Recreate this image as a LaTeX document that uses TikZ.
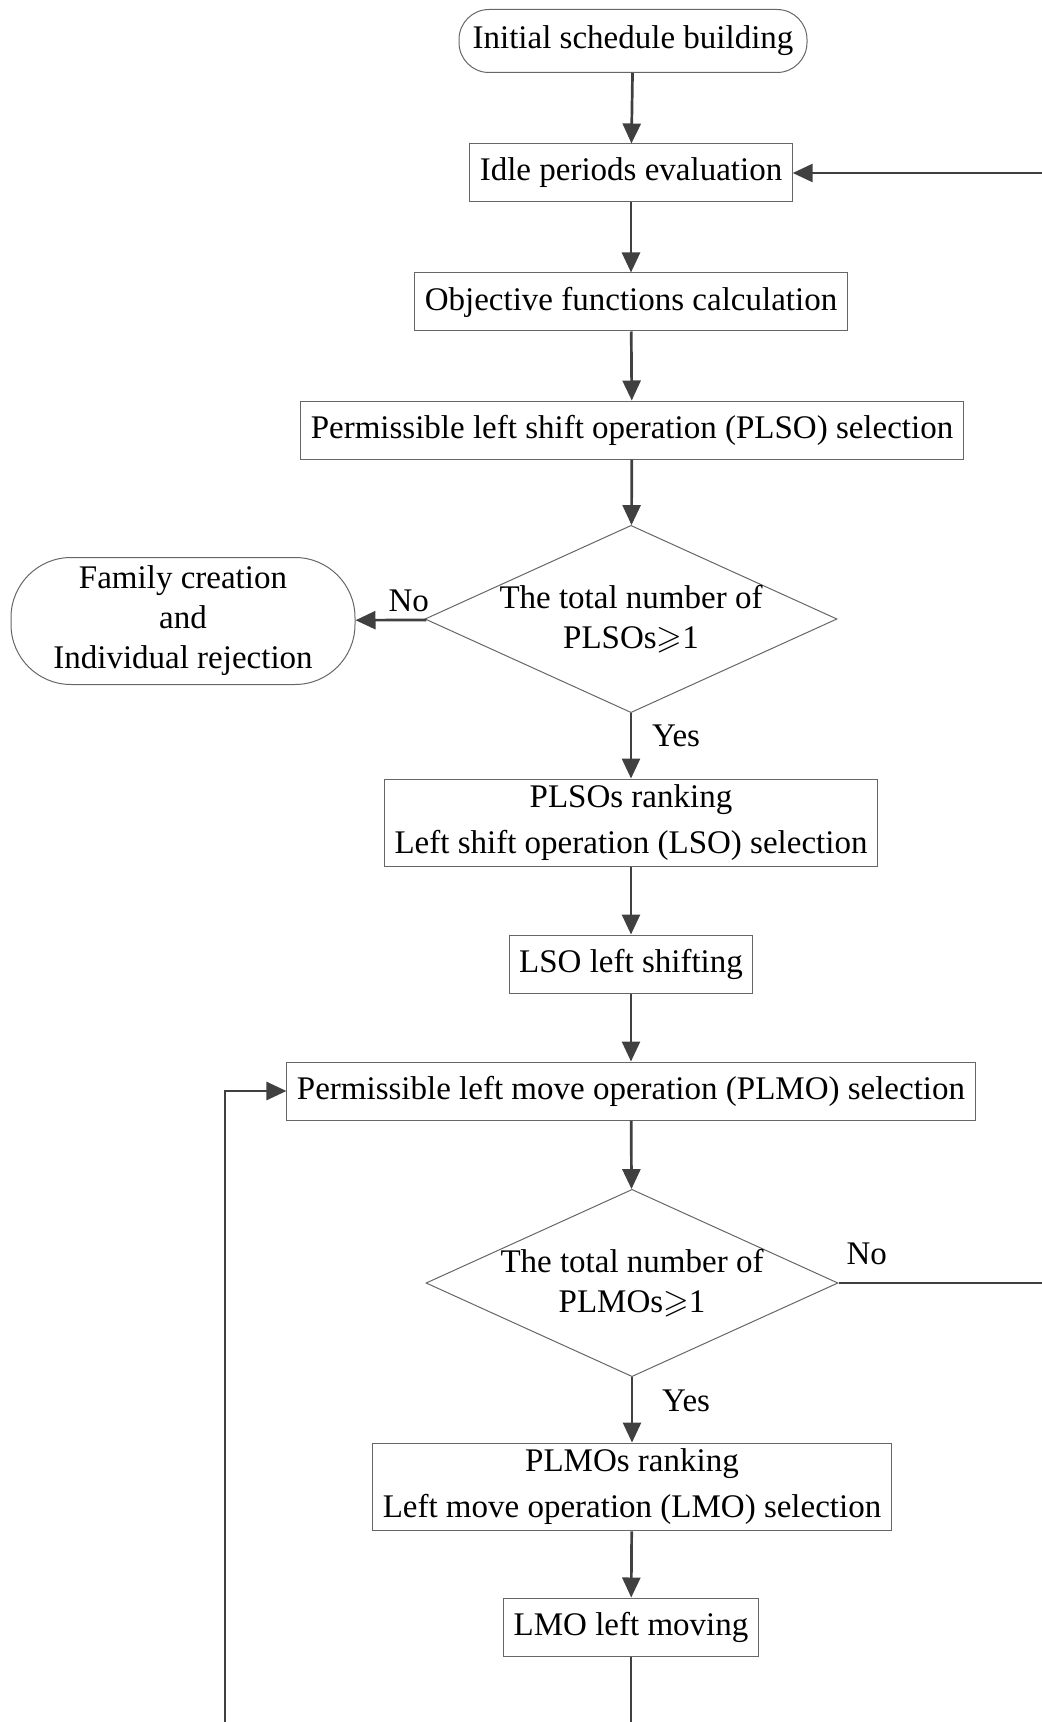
\documentclass[tikz,border=0pt]{standalone}
\usepackage{amssymb}
\usepackage{fontspec}
\setmainfont{Liberation Serif}
\usetikzlibrary{positioning,calc,shapes.geometric,arrows.meta}

\definecolor{linegray}{HTML}{404040}
\definecolor{boxgray}{HTML}{666666}

\begin{document}
\begin{tikzpicture}[
        x=0.5pt, y=-0.5pt, % one unit is one pixel of the page, y grows downwards
        font=\fontsize{16.5pt}{20pt}\selectfont,
        % Define a style for the process boxes
        process/.style={rectangle,draw=boxgray,line width=0.5pt,align=center,
            inner xsep=5pt,inner ysep=3pt,minimum height=29pt},
        % Define a style for the rounded terminal boxes
        terminal/.style={rectangle,draw=boxgray,line width=0.5pt,align=center,
            rounded corners=15pt,minimum width=174pt,minimum height=31.5pt},
        % Define a style for the decision diamonds
        decision/.style={diamond,draw=boxgray,line width=0.5pt,align=center,
            aspect=2.2,inner sep=0pt},
        % Define a style for the arrows
        flow/.style={draw=linegray,line width=1.35pt,-{Triangle[length=10pt,width=9pt]}}
    ]

    % Fix the page size
    \useasboundingbox (0,0) rectangle (1041,1722);

    % Main column of steps
    \node[terminal] (start) at (633,41) {Initial schedule building};
    \node[process] (idle) at (631,173) {Idle periods evaluation};
    \node[process] (objfun) at (631,302) {Objective functions calculation};
    \node[process] (plso) at (632,430) {Permissible left shift operation (PLSO) selection};
    \node[decision] (testplso) at (631,619) {The total number of\\PLSOs$\geqslant$1};
    \node[terminal,rounded corners=30pt,minimum width=172pt,minimum height=63.5pt]
        (family) at (183,621) {Family creation\\and\\Individual rejection};
    \node[process] (rankplso) at (631,823) {PLSOs ranking\\[3pt]Left shift operation (LSO) selection};
    \node[process] (lsoshift) at (631,964) {LSO left shifting};
    \node[process] (plmo) at (631,1091) {Permissible left move operation (PLMO) selection};
    \node[decision] (testplmo) at (632,1283) {The total number of\\PLMOs$\geqslant$1};
    \node[process] (rankplmo) at (632,1487) {PLMOs ranking\\[3pt]Left move operation (LMO) selection};
    \node[process] (lmomove) at (631,1627) {LMO left moving};

    % Corners of the two loops, outside the page
    \coordinate (backcorner) at (1070,1283);
    \coordinate (loopcorner) at (225,1770);

    % Straight arrows down the column
    \draw[flow] (start) -- (idle);
    \draw[flow] (idle) -- (objfun);
    \draw[flow] (objfun) -- (plso);
    \draw[flow] (plso) -- (testplso);
    \draw[flow] (testplso) -- node[pos=0.25,above] {No} (family);
    \draw[flow] (testplso) -- node[pos=0.35,right,xshift=6.5pt] {Yes} (rankplso);
    \draw[flow] (rankplso) -- (lsoshift);
    \draw[flow] (lsoshift) -- (plmo);
    \draw[flow] (plmo) -- (testplmo);
    \draw[flow] (testplmo) -- node[pos=0.36,right,xshift=11pt] {Yes} (rankplmo);
    \draw[flow] (rankplmo) -- (lmomove);

    % Loop back to the idle periods when no PLMO is left
    \draw[flow] (testplmo.east) -- node[pos=0,above right,yshift=5pt] {No} (backcorner) |- (idle.east);

    % Loop back to the PLMO selection after each move
    \draw[flow] (lmomove) -- (lmomove |- loopcorner) -- (loopcorner) |- (plmo.west);

\end{tikzpicture}
\end{document}
